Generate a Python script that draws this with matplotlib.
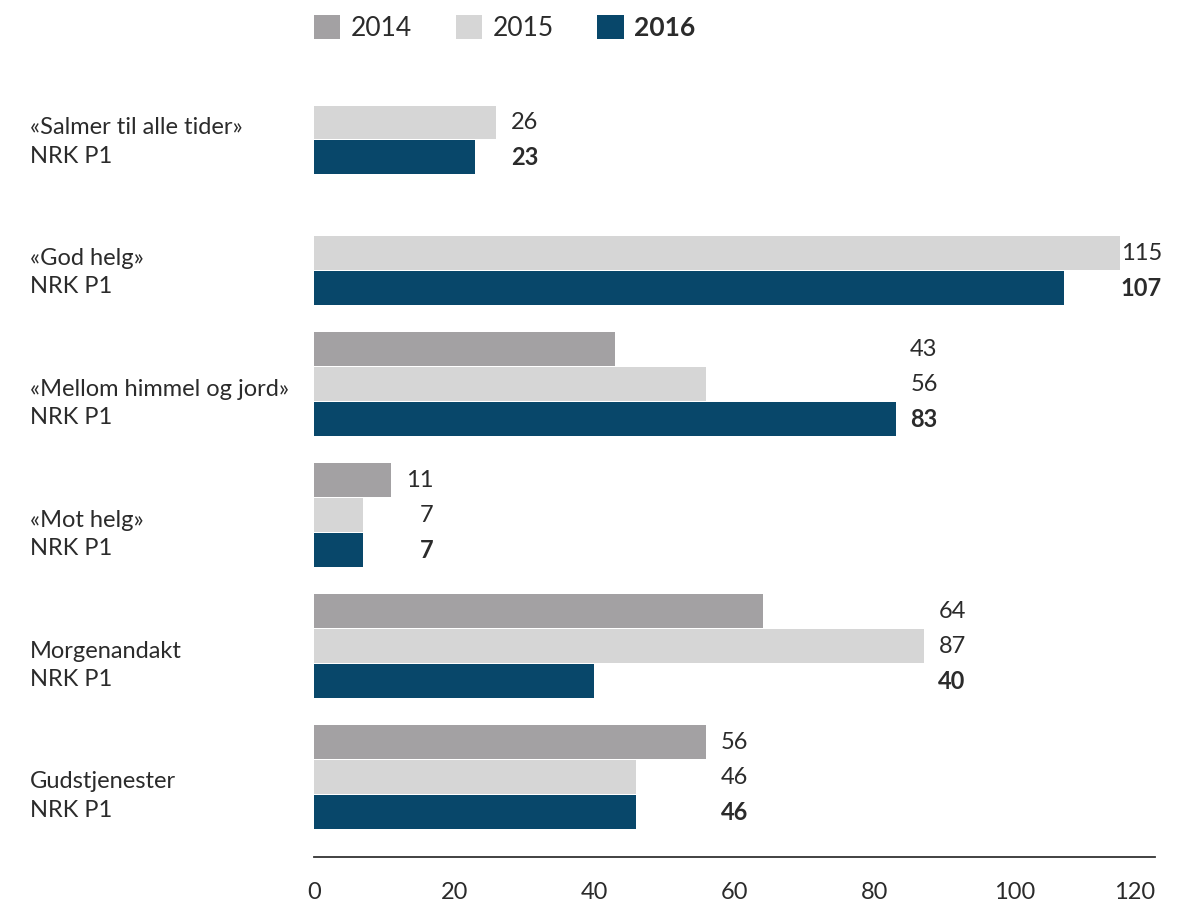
import numpy as np
import matplotlib.pyplot as plt
from matplotlib.patches import Patch
from matplotlib.transforms import blended_transform_factory

plt.rcParams['font.family'] = ['Lato', 'DejaVu Sans']

categories = ["«Salmer til alle tider»\nNRK P1", "«God helg»\nNRK P1",
              "«Mellom himmel og jord»\nNRK P1", "«Mot helg»\nNRK P1",
              "Morgenandakt\nNRK P1", "Gudstjenester\nNRK P1"]
years = ["2014", "2015", "2016"]
v2014 = [np.nan, np.nan, 43, 11, 64, 56]
v2015 = [26, 115, 56, 7, 87, 46]
v2016 = [23, 107, 83, 7, 40, 46]

colors = ["#a3a1a3", "#d6d6d6", "#08476a"]
txt_color = "#2b2b2b"

fig = plt.figure(figsize=(11.89, 9.06), dpi=100)
ax = fig.add_axes([314/1189, 1-857/906, (1155-314)/1189, (857-60)/906])

pitch = 3.743
series = [v2014, v2015, v2016]
for k, vals in enumerate(series):
    for g, v in enumerate(vals):
        if np.isnan(v):
            continue
        ax.barh(g*pitch + k, v, height=0.97, color=colors[k], linewidth=0)

# value labels, right-aligned next to the longest bar of each group
for g in range(len(categories)):
    group = [s[g] for s in series]
    xmax = np.nanmax(group)
    for k, v in enumerate(group):
        if np.isnan(v):
            continue
        ax.text(xmax + 6, g*pitch + k, f"{v:g}", ha="right", va="center",
                fontsize=17, color=txt_color,
                fontweight="bold" if k == 2 else "normal")

# category labels
trans = blended_transform_factory(fig.transFigure, ax.transData)
for g, name in enumerate(categories):
    ax.text(30/1189, g*pitch + 1.55, name, transform=trans,
            ha="left", va="center", fontsize=17, color=txt_color, linespacing=1.45)

ax.set_xlim(0, 120)
ax.set_ylim(22.0, -0.786)
ax.set_xticks(np.arange(0, 121, 20))
ax.set_yticks([])
for s in ["top", "right", "left"]:
    ax.spines[s].set_visible(False)
ax.spines["bottom"].set_color("#333333")
ax.spines["bottom"].set_linewidth(1.3)
ax.tick_params(axis="x", length=0, pad=18, labelsize=17, labelcolor=txt_color)
ax.get_xticklabels()[-1].set_horizontalalignment("right")

handles = [Patch(facecolor=c, linewidth=0) for c in colors]
leg = fig.legend(handles, years, loc="upper left", bbox_to_anchor=(314/1189, 1-15/906),
                 ncol=3, frameon=False, fontsize=19, handlelength=1.0, handleheight=1.0,
                 handletextpad=0.4, columnspacing=1.65, borderpad=0, borderaxespad=0)
for t in leg.get_texts():
    t.set_color(txt_color)
leg.get_texts()[2].set_fontweight("bold")

plt.savefig("out.png", dpi=100)
